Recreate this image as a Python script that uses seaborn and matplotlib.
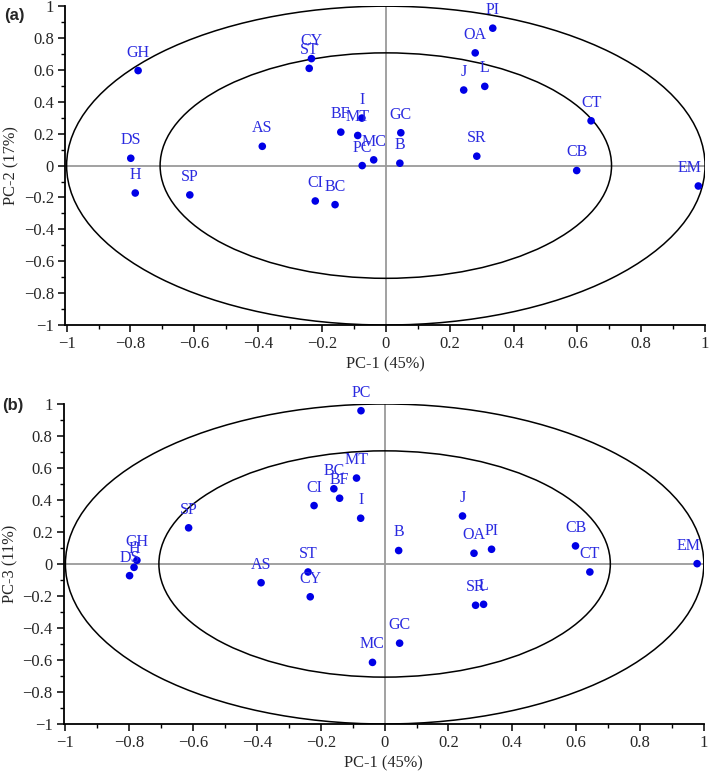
import numpy as np
import pandas as pd
import matplotlib
matplotlib.use("Agg")
import matplotlib.pyplot as plt
from matplotlib.patches import Ellipse
from matplotlib.ticker import MultipleLocator, FuncFormatter
import seaborn as sns

# loadings (PC-1 shared by both panels)
labels = ["GH", "DS", "H", "SP", "AS", "CY", "ST", "CI", "BC", "BF", "MT", "I",
          "PC", "MC", "GC", "B", "J", "OA", "PI", "L", "SR", "CB", "CT", "EM"]
pc1 = [-0.776, -0.799, -0.785, -0.614, -0.387, -0.233, -0.240, -0.221, -0.159, -0.141, -0.088, -0.075,
       -0.074, -0.038, 0.047, 0.044, 0.244, 0.280, 0.335, 0.310, 0.285, 0.598, 0.643, 0.979]
pc2 = [0.596, 0.046, -0.172, -0.184, 0.121, 0.671, 0.610, -0.222, -0.245, 0.210, 0.189, 0.298,
       0.000, 0.036, 0.206, 0.015, 0.474, 0.707, 0.862, 0.497, 0.059, -0.031, 0.281, -0.128]
pc3 = [0.023, -0.073, -0.021, 0.226, -0.117, -0.205, -0.050, 0.365, 0.470, 0.411, 0.537, 0.286,
       0.958, -0.615, -0.495, 0.084, 0.300, 0.067, 0.092, -0.252, -0.258, 0.113, -0.050, 0.002]

# explained-variance circles (100% and 50%)
circle_radii = [1.0, np.sqrt(0.5)]

df = pd.DataFrame({"name": labels, "PC1": pc1, "PC2": pc2, "PC3": pc3})

sns.set_style("ticks")
plt.rcParams["font.family"] = ["Liberation Serif", "DejaVu Serif"]
plt.rcParams["axes.unicode_minus"] = True

fig = plt.figure(figsize=(7.09, 7.72), dpi=100)

panels = [
    ("PC2", "PC-2 (17%)", "(a)", [0.0917, 0.579, 0.9027, 0.413], 0.972),
    ("PC3", "PC-3 (11%)", "(b)", [0.0900, 0.0622, 0.9027, 0.4145], 0.994),
]

def fmt(v, pos):
    if abs(v) < 1e-9:
        return "0"
    return f"{v:g}".replace("-", "\u2212")

for col, ylab, tag, rect, tag_y in panels:
    ax = fig.add_axes(rect)
    ax.axhline(0, color="#9a9a9a", lw=1.3, zorder=1)
    ax.axvline(0, color="#9a9a9a", lw=1.3, zorder=1)
    for r in circle_radii:
        ax.add_patch(Ellipse((0, 0), 2 * r, 2 * r, fill=False, ec="black", lw=1.1, zorder=2))

    sns.scatterplot(data=df, x="PC1", y=col, ax=ax, color="#0000e6", s=30,
                    edgecolor="none", zorder=5, legend=False)
    for _, row in df.iterrows():
        dx = -6 if row["PC1"] > 0.95 else 0
        ax.annotate(row["name"], (row["PC1"], row[col]), xytext=(dx, 13),
                    textcoords="offset points", ha="center", va="center",
                    fontsize=11.5, color="#2a2ae0", zorder=6)

    ax.set_xlim(-1.005, 1.0)
    ax.set_ylim(-1.0, 1.0)
    for axis in (ax.xaxis, ax.yaxis):
        axis.set_major_locator(MultipleLocator(0.2))
        axis.set_minor_locator(MultipleLocator(0.1))
        axis.set_major_formatter(FuncFormatter(fmt))
    ax.tick_params(which="major", direction="out", length=5, width=1.1,
                   labelsize=12, pad=3, color="black")
    ax.tick_params(which="minor", direction="out", length=3, width=1.0, color="black")
    sns.despine(ax=ax)
    for s in ("left", "bottom"):
        ax.spines[s].set_linewidth(1.3)
        ax.spines[s].set_color("black")
    ax.set_xlabel("PC-1 (45%)", fontsize=11.8, labelpad=3)
    ax.set_ylabel(ylab, fontsize=11.8, labelpad=3)
    ax.text(-0.079, tag_y, tag, transform=ax.transAxes, fontsize=12,
            fontweight="bold", family="Liberation Sans", ha="center", va="center")

fig.savefig("out.png", dpi=100)
